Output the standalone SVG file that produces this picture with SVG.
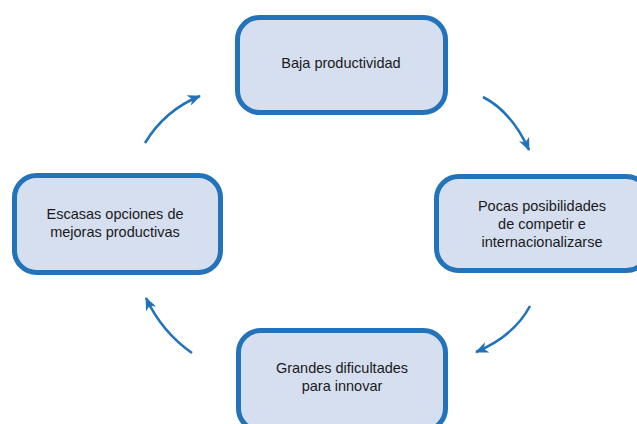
<svg xmlns="http://www.w3.org/2000/svg" width="637" height="424" viewBox="0 0 637 424">
<defs>
<style>
.node{fill:#d6dff0;stroke:#2273b9;stroke-width:5}
.lbl{font-family:"Liberation Sans",Arial,sans-serif;font-size:14.5px;fill:#1a1a1a;text-anchor:middle}
.conn{fill:none;stroke:#2273b9;stroke-width:2.6}
</style>
<marker id="ah" viewBox="0 0 13 11" refX="12" refY="5.5" markerWidth="13" markerHeight="11" markerUnits="userSpaceOnUse" orient="auto">
<path d="M0,0 L13,5.5 L0,11 L3.5,5.5 z" fill="#2273b9"/>
</marker>
</defs>
<rect width="637" height="424" fill="#ffffff"/>
<g id="connectors">
<path class="conn" d="M483,97 Q512,112 529,150" marker-end="url(#ah)"/>
<path class="conn" d="M530,306 Q514,336 476,352" marker-end="url(#ah)"/>
<path class="conn" d="M192,353 Q162,332 146,298" marker-end="url(#ah)"/>
<path class="conn" d="M145,143 Q165,110 200,96" marker-end="url(#ah)"/>
</g>
<g id="node-top">
<rect class="node" x="237.5" y="17.5" width="208" height="95" rx="22"/>
<text class="lbl" x="341" y="68">Baja productividad</text>
</g>
<g id="node-right">
<rect class="node" x="436.5" y="176.5" width="212" height="94" rx="22"/>
<text class="lbl" x="542" y="211">Pocas posibilidades</text>
<text class="lbl" x="542" y="229">de competir e</text>
<text class="lbl" x="542" y="247">internacionalizarse</text>
</g>
<g id="node-bottom">
<rect class="node" x="238.5" y="330.5" width="207" height="100" rx="22"/>
<text class="lbl" x="342" y="373">Grandes dificultades</text>
<text class="lbl" x="342" y="391">para innovar</text>
</g>
<g id="node-left">
<rect class="node" x="14.5" y="175.5" width="206" height="97" rx="22"/>
<text class="lbl" x="115" y="219">Escasas opciones de</text>
<text class="lbl" x="115" y="237">mejoras productivas</text>
</g>
</svg>
